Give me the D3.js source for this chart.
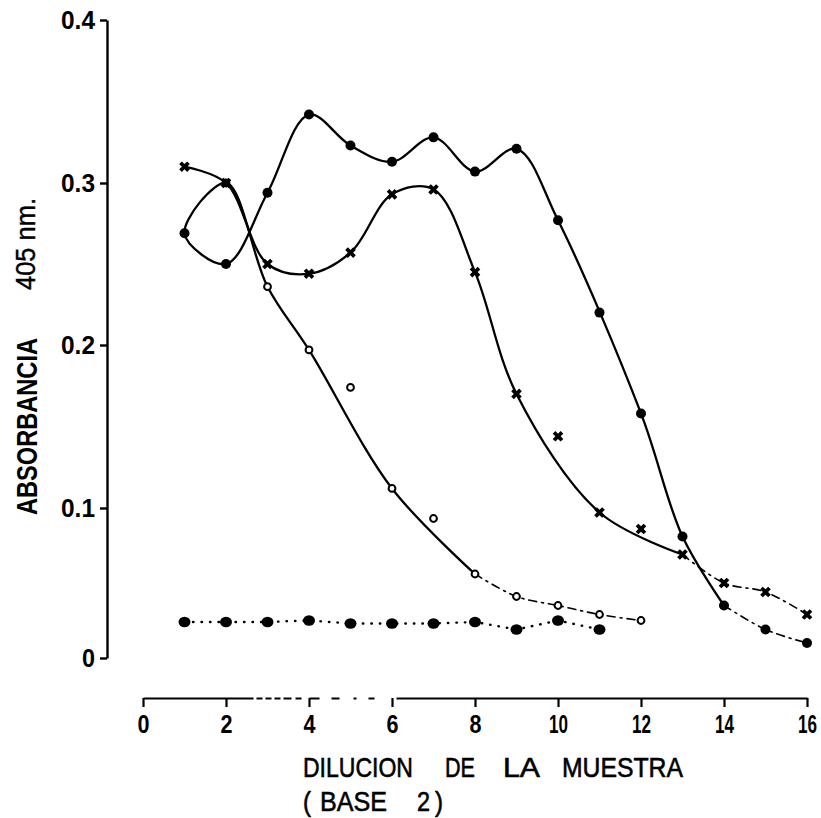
<!DOCTYPE html>
<html>
<head>
<meta charset="utf-8">
<script src="https://cdn.jsdelivr.net/npm/d3@7"></script>
<style>
  html, body { margin: 0; background: #fff; }
  svg { display: block; }
</style>
</head>
<body>
<svg id="chart" width="821" height="818"></svg>
<script>
// Sample dilution (log base 2) and absorbance read at 405 nm
const dilucion = [1, 2, 3, 4, 5, 6, 7, 8, 9, 10, 11, 12, 13, 14, 15, 16];

// filled circles
const serieA = [0.269, 0.250, 0.294, 0.342, 0.323, 0.313, 0.328, 0.307,
                0.321, 0.277, 0.220, 0.158, 0.081, 0.035, 0.019, 0.010];
// crosses
const serieB = [0.310, 0.300, 0.250, 0.244, 0.257, 0.293, 0.296, 0.245,
                0.170, 0.144, 0.097, 0.086, 0.069, 0.050, 0.044, 0.029];
// open circles (dilutions 1-12)
const serieC = [0.269, 0.300, 0.236, 0.197, 0.174, 0.112, 0.093, 0.056,
                0.041, 0.035, 0.029, 0.025];
// blank, dotted line (dilutions 1-11)
const serieD = [0.024, 0.024, 0.024, 0.025, 0.023, 0.023, 0.023, 0.024,
                0.019, 0.025, 0.019];

// points the hand-fitted curves do not pass through
const fueraA = [11];
const fueraB = [10, 12];
const fueraC = [5, 7];
// last dilution of the solid stretch of each curve (dash-dot beyond)
const finA = 14, finB = 13, finC = 8;

const xTicks = [0, 2, 4, 6, 8, 10, 12, 14, 16];
const yTicks = [0, 0.1, 0.2, 0.3, 0.4];

const svg = d3.select("#chart");

const x = d3.scaleLinear().domain([0, 16]).range([143, 807]);
// piecewise scale following the printed tick spacing
const y = d3.scaleLinear().domain(yTicks).range([658, 508, 345, 183, 20]);

const FONT = "'Liberation Sans', Arial, sans-serif";

// condensed lettering: squeeze each label to a given width
const squeeze = (sel, widthOf) => sel.each(function () {
  d3.select(this).attr("textLength", widthOf(this.textContent))
    .attr("lengthAdjust", "spacingAndGlyphs");
});

// ---- axes ----
const gy = svg.append("g")
  .attr("transform", "translate(107,0)")
  .call(d3.axisLeft(y)
    .tickValues(yTicks)
    .tickFormat(d => d === 0 ? "0" : d3.format(".1f")(d))
    .tickSize(7).tickSizeOuter(0).tickPadding(5))
  .attr("font-family", FONT).attr("font-size", 25).attr("font-weight", "bold");
gy.select(".domain").attr("stroke", "#000").attr("stroke-width", 2.4);
gy.selectAll(".tick line").attr("stroke", "#000").attr("stroke-width", 2.4);
gy.selectAll(".tick text").attr("fill", "#000").call(squeeze, s => s.length === 1 ? 13 : 34);

const xLabelW = s => s.length === 1 ? 12 : 19;
const gx = svg.append("g")
  .attr("transform", "translate(0,698)")
  .call(d3.axisBottom(x)
    .tickValues(xTicks)
    .tickSize(9).tickSizeOuter(0).tickPadding(8))
  .attr("font-family", FONT).attr("font-size", 26).attr("font-weight", "bold");
gx.select(".domain").attr("stroke", "#000").attr("stroke-width", 1.8)
  .attr("stroke-dasharray", "110 3 6 3 6 3 6 3 8 4 6 8 10 12 8 14 3 12 6 22 700");
gx.selectAll(".tick line").attr("stroke", "#000").attr("stroke-width", 2.2);
gx.selectAll(".tick text").attr("fill", "#000").call(squeeze, xLabelW);
// last label sits against the right edge: anchor it by its end
gx.selectAll(".tick text").filter(d => d === xTicks[xTicks.length - 1])
  .attr("text-anchor", "end").attr("x", function () { return xLabelW(this.textContent) / 2; });

// ---- axis titles ----
svg.append("text")
  .attr("transform", "translate(37,515) rotate(-90)")
  .attr("font-family", FONT).attr("font-size", 29).attr("font-weight", "bold")
  .attr("textLength", 177).attr("lengthAdjust", "spacingAndGlyphs")
  .text("ABSORBANCIA");
svg.append("text")
  .attr("transform", "translate(35,290) rotate(-90)")
  .attr("font-family", FONT).attr("font-size", 28)
  .attr("stroke", "#000").attr("stroke-width", 0.4)
  .attr("textLength", 92).attr("lengthAdjust", "spacingAndGlyphs")
  .text("405 nm.");

const palabras = (words, baseline) => words.forEach(([w, px, len]) =>
  svg.append("text").attr("x", px).attr("y", baseline)
    .attr("font-family", FONT).attr("font-size", 28)
    .attr("stroke", "#000").attr("stroke-width", 0.6)
    .attr("textLength", len).attr("lengthAdjust", "spacingAndGlyphs")
    .text(w));
palabras([["DILUCION", 303, 110], ["DE", 445, 30], ["LA", 503, 37], ["MUESTRA", 562, 121]], 777);
palabras([["(", 303, 8], ["BASE", 320, 67], ["2", 417, 13], [")", 435, 8]], 811);

// ---- data ----
const pts = vals => vals.map((v, i) => ({ x: dilucion[i], y: v }));
const A = pts(serieA), B = pts(serieB), C = pts(serieC), D = pts(serieD);
const knots = (p, fuera) => p.filter(d => !fuera.includes(d.x));
const kA = knots(A, fueraA), kB = knots(B, fueraB), kC = knots(C, fueraC);

const curve = d3.line()
  .x(d => x(d.x)).y(d => y(d.y))
  .curve(d3.curveCatmullRom.alpha(0.5));
const straight = d3.line().x(d => x(d.x)).y(d => y(d.y));

const gCurves = svg.append("g").attr("fill", "none").attr("stroke", "#000")
  .attr("stroke-linecap", "round").attr("stroke-linejoin", "round");

// A and C share the first dilution: traced as one loop through it
const loop = kA.filter(d => d.x <= finA).reverse()
  .concat(kC.filter(d => d.x > 1 && d.x <= finC));
gCurves.append("path").attr("d", curve(loop)).attr("stroke-width", 2.3);
gCurves.append("path").attr("d", curve(kB.filter(d => d.x <= finB))).attr("stroke-width", 2.3);

// dash-dot tails
[kA.filter(d => d.x >= finA), kB.filter(d => d.x >= finB), kC.filter(d => d.x >= finC)]
  .forEach(k => gCurves.append("path").attr("d", curve(k))
    .attr("stroke-width", 1.6).attr("stroke-dasharray", "8 5 2 5"));

// blank: dotted line
gCurves.append("path").attr("d", straight(D))
  .attr("stroke-width", 2.4).attr("stroke-dasharray", "0.5 8");

// ---- markers ----
svg.append("g").selectAll("circle").data(C).join("circle")
  .attr("cx", d => x(d.x)).attr("cy", d => y(d.y)).attr("r", 3.4)
  .attr("fill", "#fff").attr("stroke", "#000").attr("stroke-width", 2);

svg.append("g").selectAll("path").data(B).join("path")
  .attr("d", d3.symbol(d3.symbolCross, 70))
  .attr("transform", d => `translate(${x(d.x)},${y(d.y)}) rotate(45)`)
  .attr("fill", "#000");

svg.append("g").selectAll("circle").data(A).join("circle")
  .attr("cx", d => x(d.x)).attr("cy", d => y(d.y)).attr("r", 5)
  .attr("fill", "#000");

svg.append("g").selectAll("ellipse").data(D).join("ellipse")
  .attr("cx", d => x(d.x)).attr("cy", d => y(d.y)).attr("rx", 6).attr("ry", 5.2)
  .attr("fill", "#000");
</script>
</body>
</html>
